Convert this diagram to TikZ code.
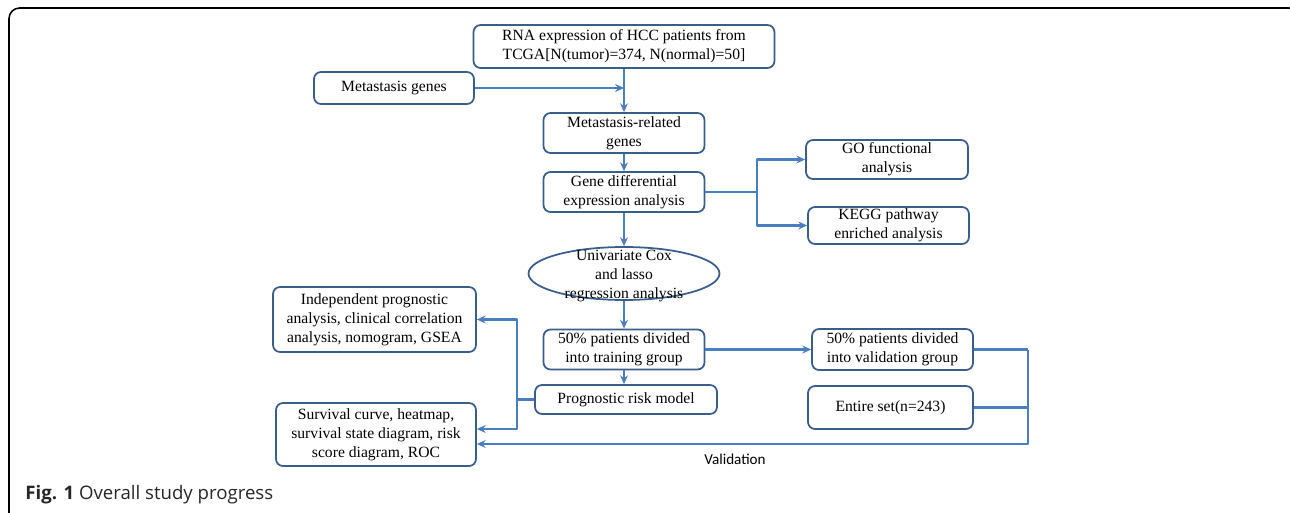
\documentclass[tikz,border=0pt]{standalone}
\usepackage{fontspec}
\setmainfont{Liberation Serif}
\newfontfamily\capfont{Open Sans}
\newfontfamily\valfont{Carlito}
\usetikzlibrary{shapes.geometric,arrows.meta}
\definecolor{linkblue}{RGB}{74,126,190}
\definecolor{boxblue}{RGB}{58,94,140}
\begin{document}
\begin{tikzpicture}[x=0.02cm,y=-0.02cm,>={Stealth[length=5pt,width=4.5pt]},line join=round,
	box/.style={draw=boxblue,line width=1pt,rounded corners=4pt,align=center,inner sep=0pt,font=\fontsize{8.9}{10.8}\selectfont},
	link/.style={draw=linkblue,line width=1.4pt}]
	\useasboundingbox (0,0) rectangle (1290,513);
	\begin{scope}
		\clip (0,0) rectangle (1290,513);
		\draw[line width=0.9pt,rounded corners=6pt] (9,8) rectangle (1299,530);
	\end{scope}
	% main column
	\node[box,minimum width=6.02cm,minimum height=0.86cm] (rna) at (624,46.5) {RNA expression of HCC patients from\\TCGA[N(tumor)=374, N(normal)=50]};
	\node[box,minimum width=3.2cm,minimum height=0.64cm] (metgenes) at (394,88) {Metastasis genes};
	\node[box,minimum width=3.22cm,minimum height=0.8cm] (metrel) at (624,133) {Metastasis-related\\genes};
	\node[box,minimum width=3.22cm,minimum height=0.8cm] (gde) at (624,192) {Gene differential\\expression analysis};
	\node[box,ellipse,rounded corners=0pt,minimum width=3.82cm,minimum height=1.06cm] (cox) at (624,273.5) {};
	\node[font=\fontsize{8.9}{10.8}\selectfont,align=center,inner sep=0pt] (coxtext) at (624,276) {Univariate Cox\\and lasso\\regression analysis};
	\node[box,minimum width=3.22cm,minimum height=0.8cm] (train) at (624,349.5) {50\% patients divided\\into training group};
	\node[box,minimum width=3.64cm,minimum height=0.58cm] (risk) at (626,399.5) {Prognostic risk model};
	% right side
	\node[box,minimum width=3.24cm,minimum height=0.78cm] (go) at (887,159.5) {GO functional\\analysis};
	\node[box,minimum width=3.22cm,minimum height=0.74cm] (kegg) at (888.5,225.5) {KEGG pathway\\enriched analysis};
	\node[box,minimum width=3.22cm,minimum height=0.82cm] (valid) at (892.5,349.5) {50\% patients divided\\into validation group};
	\node[box,minimum width=3.3cm,minimum height=0.86cm] (entire) at (890.5,407.5) {Entire set(n=243)};
	% left side
	\node[box,minimum width=4.06cm,minimum height=1.3cm] (indep) at (374.5,319.5) {Independent prognostic\\analysis, clinical correlation\\analysis, nomogram, GSEA};
	\node[box,minimum width=4.0cm,minimum height=1.26cm] (surv) at (376,434.5) {Survival curve, heatmap,\\survival state diagram, risk\\score diagram, ROC};
	% connectors
	\draw[link,->] (rna.south) -- (metrel.north);
	\draw[link,->] (metgenes.east) -- (metgenes.east -| rna.south);
	\draw[link,->] (metrel.south) -- (gde.north);
	\draw[link,->] (gde.south) -- (cox.north);
	\coordinate (split) at (757,192);
	\draw[link,->] (gde.east) -- (split) |- (go.west);
	\draw[link,->] (split) |- (kegg.west);
	\draw[link,->] (cox.south) -- (train.north);
	\draw[link,->] (train.south) -- (train.south |- risk.north);
	\draw[link,->] (train.east) -- (valid.west);
	\coordinate (rsplit) at (517,399.5);
	\draw[link,->] (risk.west) -- (rsplit) |- (indep.east);
	\draw[link,->] (rsplit) |- ([yshift=0.11cm]surv.east);
	\coordinate (vr) at (1028,349.5);
	\draw[link] (valid.east) -- (vr);
	\draw[link] (entire.east) -- (entire.east -| vr);
	\draw[link,->] (vr) |- ([yshift=-0.19cm]surv.east);
	\node[anchor=base,font=\valfont\fontsize{8.6}{10}\selectfont,inner sep=0pt] (vlabel) at (735,464) {Validation};
	% caption
	\node[anchor=base west,font=\capfont\fontsize{10.6}{12}\selectfont,inner sep=0pt,text=black!85] (caption) at (25,499) {\textbf{Fig. 1} Overall study progress};
\end{tikzpicture}
\end{document}
